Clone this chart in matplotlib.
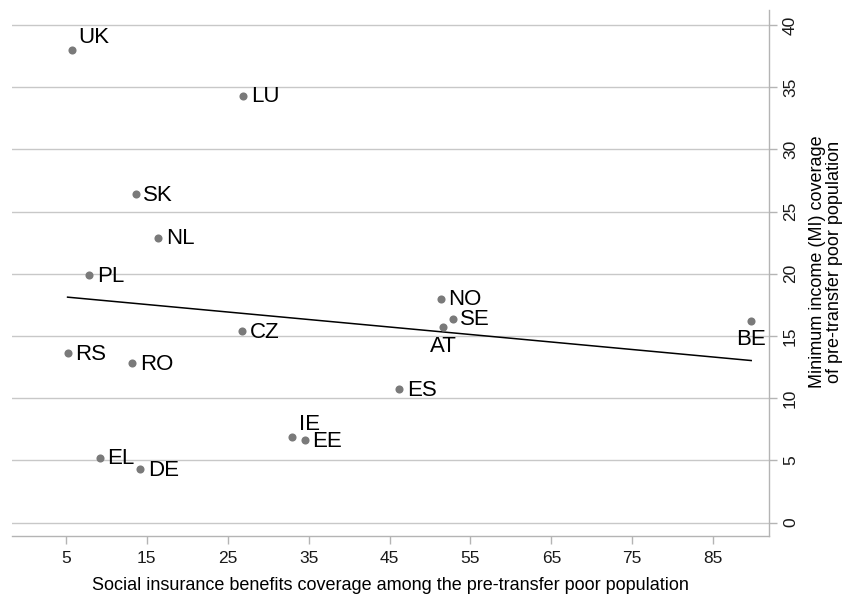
import numpy as np
import matplotlib.pyplot as plt

plt.rcParams['font.family'] = ['Liberation Sans', 'DejaVu Sans']

COUNTRIES = ['UK', 'LU', 'SK', 'NL', 'PL', 'NO', 'SE', 'AT', 'BE', 'CZ',
             'RS', 'RO', 'ES', 'IE', 'EE', 'EL', 'DE']
SOCIAL_INS = [5.7, 26.9, 13.6, 16.4, 7.9, 51.3, 52.8, 51.6, 89.7, 26.8,
              5.2, 13.2, 46.2, 33.0, 34.5, 9.2, 14.2]
MI_COVERAGE = [38.0, 34.3, 26.4, 22.9, 19.9, 18.0, 16.4, 15.7, 16.2, 15.4,
               13.6, 12.8, 10.7, 6.9, 6.6, 5.2, 4.3]
# label placement as clock positions (Stata style)
LABEL_POS = {'UK': 1, 'IE': 1, 'AT': 6, 'BE': 6}

X_TICKS = [5, 15, 25, 35, 45, 55, 65, 75, 85]
Y_TICKS = [0, 5, 10, 15, 20, 25, 30, 35, 40]

GRID = '#c8c8c8'
AXIS = '#b4b4b4'
DOT = '#7a7a7a'


def main():
    fig = plt.figure(figsize=(8.44, 5.97), dpi=100)
    ax = fig.add_axes([12 / 844, 61 / 597, 757 / 844, 526 / 597])

    x = np.array(SOCIAL_INS)
    y = np.array(MI_COVERAGE)

    for yt in Y_TICKS:
        ax.axhline(yt, color=GRID, lw=1.0, zorder=0)

    ax.scatter(x, y, s=34, color=DOT, zorder=3, linewidths=0)

    # linear fit over the observed range
    slope, icpt = np.polyfit(x, y, 1)
    xs = np.array([x.min(), x.max()])
    ax.plot(xs, icpt + slope * xs, color='black', lw=1.1, zorder=2)

    for c, xi, yi in zip(COUNTRIES, x, y):
        pos = LABEL_POS.get(c, 3)
        if pos == 3:
            ax.annotate(c, (xi, yi), xytext=(5.5, -0.8), textcoords='offset points',
                        ha='left', va='center', fontsize=16, zorder=4)
        elif pos == 6:
            ax.annotate(c, (xi, yi), xytext=(0, -6.0), textcoords='offset points',
                        ha='center', va='top', fontsize=16, zorder=4)
        else:
            ax.annotate(c, (xi, yi), xytext=(4.5, 1.0), textcoords='offset points',
                        ha='left', va='bottom', fontsize=16, zorder=4)

    ax.set_xlim(-1.67, 91.9)
    ax.set_ylim(-1.08, 41.2)
    ax.set_xticks(X_TICKS)
    ax.set_yticks(Y_TICKS)

    ax.yaxis.tick_right()
    for side in ['left', 'top']:
        ax.spines[side].set_visible(False)
    for side in ['right', 'bottom']:
        ax.spines[side].set_color(AXIS)
        ax.spines[side].set_linewidth(1.0)
    ax.tick_params(axis='both', colors=AXIS, labelcolor='#1a1a1a',
                   length=6, width=1.0, labelsize=12.5)
    ax.tick_params(axis='x', pad=5)
    ax.tick_params(axis='y', pad=4, labelrotation=90)
    for lbl in ax.get_yticklabels():
        lbl.set_va('center')

    ax.set_xlabel('Social insurance benefits coverage among the pre-transfer poor population',
                  fontsize=13, labelpad=8)
    fig.text(826 / 844, 0.562,
             'Minimum income (MI) coverage\nof pre-transfer poor population',
             rotation=90, ha='center', va='center', multialignment='center',
             fontsize=13, linespacing=0.95)

    fig.savefig('out.png', dpi=100)


if __name__ == '__main__':
    main()
